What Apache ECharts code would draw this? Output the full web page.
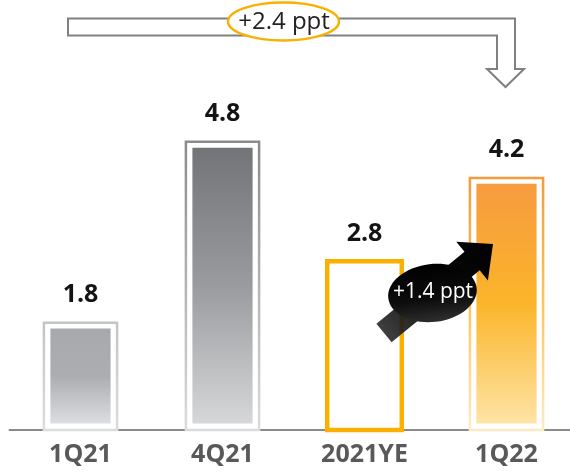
<!DOCTYPE html>
<html>
<head>
<meta charset="utf-8">
<script src="https://cdn.jsdelivr.net/npm/echarts@6/dist/echarts.min.js"></script>
<style>
  html, body { margin: 0; padding: 0; background: #fff; }
  #chart { width: 570px; height: 475px; }
</style>
</head>
<body>
<div id="chart"></div>
<script>
// Ratio by period (%)
const categories = ['1Q21', '4Q21', '2021YE', '1Q22'];
const values = [1.8, 4.8, 2.8, 4.2];

const FONT = '"Open Sans", "Noto Sans", sans-serif';
const LG = (stops) => new echarts.graphic.LinearGradient(0, 0, 0, 1,
  stops.map((c, k) => ({ offset: k / (stops.length - 1), color: c })));

// Per-bar look: framed gradient columns, the year-end column is an open frame
const barStyles = [
  { frame: LG(['#c3c4c6', '#dcdddf']), fill: LG(['#a7a9ac', '#abadb0', '#dcdde0']) },
  { frame: LG(['#8a8b8e', '#dcdcde']), fill: LG(['#737477', '#9a9b9e', '#d6d7d9']) },
  { hollow: '#f9b000' },
  { frame: LG(['#f69a3c', '#fcc65a', '#feebc6']), fill: LG(['#f69b3f', '#fbb52a', '#fee4a6']) }
];

function renderBar(params, api) {
  const i = params.dataIndex;
  const v = api.value(1);
  const top = api.coord([api.value(0), v]);
  const base = api.coord([api.value(0), 0]);
  const cx = top[0];
  const st = barStyles[i];
  const children = [];
  if (st.hollow) {
    const hw = 37.3;
    children.push({
      type: 'rect',
      shape: { x: cx - hw, y: top[1], width: hw * 2, height: base[1] - top[1] },
      style: { fill: 'none', stroke: st.hollow, lineWidth: 4.5 }
    });
  } else {
    const hw = 36.6;
    children.push({
      type: 'rect',
      shape: { x: cx - hw, y: top[1] + 1.2, width: hw * 2, height: base[1] - top[1] - 1.2 },
      style: { fill: '#fff', stroke: st.frame, lineWidth: 2.5 }
    });
    const ins = 6.5;
    children.push({
      type: 'rect',
      shape: { x: cx - hw + ins, y: top[1] + ins + 0.5, width: (hw - ins) * 2, height: base[1] - top[1] - ins * 2 - 0.5 },
      style: { fill: st.fill }
    });
  }
  children.push({
    type: 'text',
    style: {
      x: cx, y: top[1] - 27, text: v.toFixed(1),
      align: 'center', verticalAlign: 'middle',
      fill: '#141414', font: 'bold 25px ' + FONT
    }
  });
  return { type: 'group', children };
}

// Comparison annotations
const diffYear = (values[3] - values[0]).toFixed(1);
const diffYE = (values[3] - values[2]).toFixed(1);

// Bent hollow arrow from the first column over to the last one
const bentArrow = [
  [68, 18.5], [515, 18.5], [515, 69], [524, 69], [505.5, 87],
  [487, 69], [497, 69], [497, 35.5], [68, 35.5]
];

// Straight solid arrow rising from the year-end column towards 1Q22
function solidArrow(tail, tip, shaftHalf, headHalf, headLen) {
  const dx = tip[0] - tail[0], dy = tip[1] - tail[1];
  const L = Math.hypot(dx, dy);
  const ux = dx / L, uy = dy / L;
  const nx = -uy, ny = ux;
  const bx = tip[0] - ux * headLen, by = tip[1] - uy * headLen;
  return [
    [tail[0] + nx * shaftHalf, tail[1] + ny * shaftHalf],
    [bx + nx * shaftHalf, by + ny * shaftHalf],
    [bx + nx * headHalf, by + ny * headHalf],
    tip,
    [bx - nx * headHalf, by - ny * headHalf],
    [bx - nx * shaftHalf, by - ny * shaftHalf],
    [tail[0] - nx * shaftHalf, tail[1] - ny * shaftHalf]
  ];
}

const chart = echarts.init(document.getElementById('chart'), null, { renderer: 'canvas' });
chart.setOption({
  animation: false,
  backgroundColor: '#fff',
  grid: { left: 9.5, width: 568, top: 8, bottom: 45, containLabel: false, outerBoundsMode: 'none' },
  xAxis: {
    type: 'category',
    data: categories,
    axisLine: { lineStyle: { color: '#8a8a8a', width: 2 } },
    axisTick: { show: false },
    axisLabel: {
      color: '#595959', fontFamily: FONT, fontWeight: 'bold', fontSize: 25, margin: 12
    }
  },
  yAxis: {
    type: 'value', min: 0, max: 7,
    show: false,
    splitLine: { show: false }
  },
  series: [{
    type: 'custom',
    renderItem: renderBar,
    data: values.map((v, i) => [i, v]),
    z: 2
  }],
  graphic: [
    {
      type: 'polygon', z: 10,
      shape: { points: bentArrow },
      style: { fill: '#fff', stroke: '#7f8083', lineWidth: 2 }
    },
    {
      type: 'ellipse', z: 11,
      shape: { cx: 283.5, cy: 21.5, rx: 55.5, ry: 19 },
      style: { fill: '#fff', stroke: '#f9b000', lineWidth: 2.5 }
    },
    {
      type: 'text', z: 12,
      style: {
        x: 284, y: 22, text: '+' + diffYear + ' ppt',
        align: 'center', verticalAlign: 'middle',
        fill: '#231f20', font: '24px ' + FONT
      }
    },
    {
      type: 'polygon', z: 10,
      shape: { points: solidArrow([384, 333], [493, 244], 12, 25, 27) },
      style: {
        fill: new echarts.graphic.LinearGradient(0, 1, 1, 0, [
          { offset: 0, color: 'rgba(40,40,40,0.85)' },
          { offset: 0.5, color: '#0a0a0a' },
          { offset: 1, color: '#000' }
        ])
      }
    },
    {
      type: 'ellipse', z: 11,
      x: 432.5, y: 293, rotation: 0.12,
      shape: { cx: 0, cy: 0, rx: 44.5, ry: 29 },
      style: {
        fill: new echarts.graphic.LinearGradient(0, 0, 0, 1, [
          { offset: 0, color: '#000' },
          { offset: 0.6, color: '#0c0c0c' },
          { offset: 1, color: '#2e2e2e' }
        ])
      }
    },
    {
      type: 'text', z: 12,
      style: {
        x: 433, y: 292, text: '+' + diffYE + ' ppt',
        align: 'center', verticalAlign: 'middle',
        fill: '#fff', font: '21px ' + FONT
      }
    }
  ]
});
</script>
</body>
</html>
